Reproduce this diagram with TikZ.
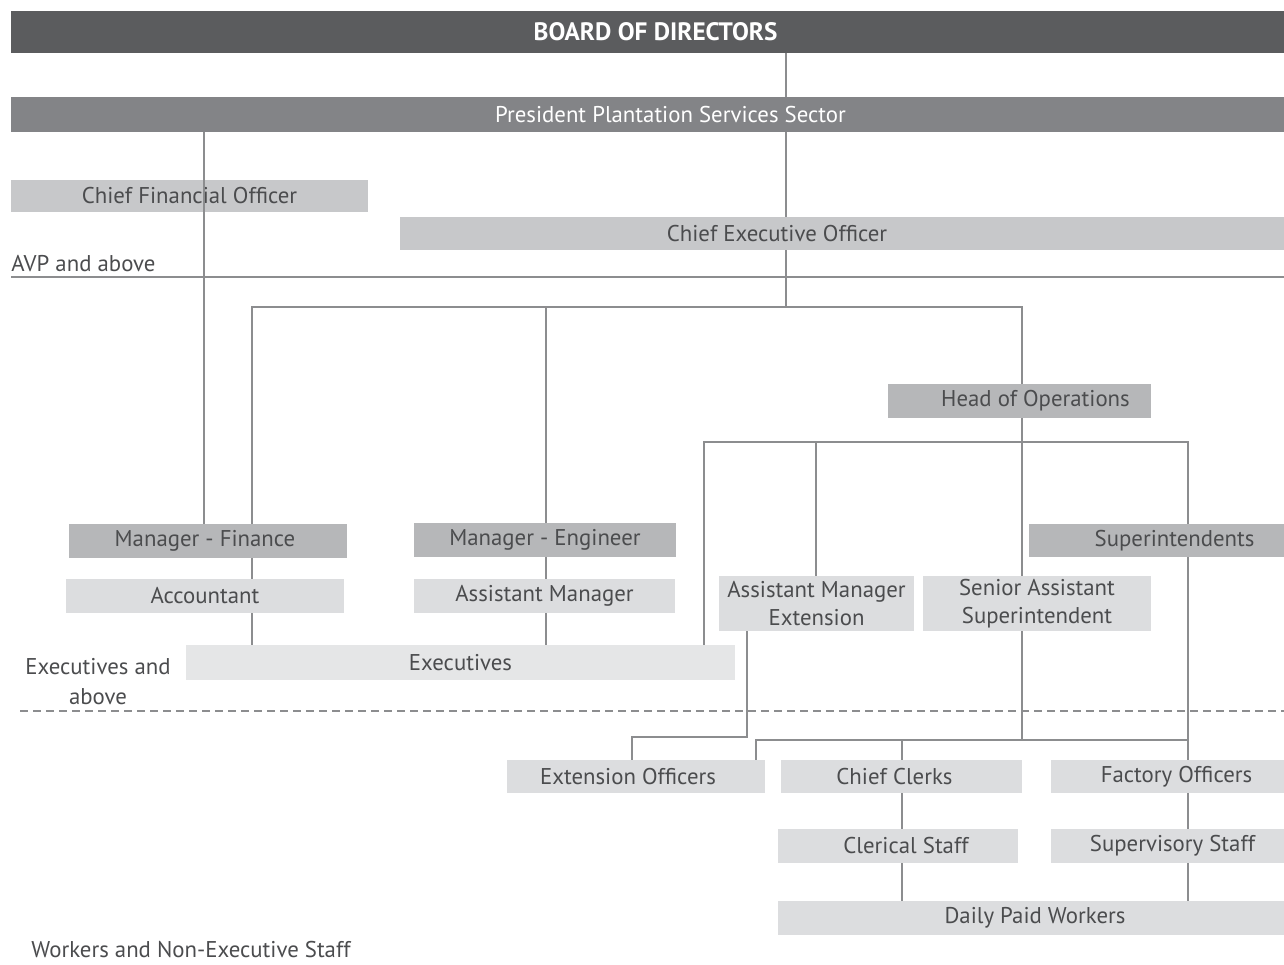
\documentclass[tikz,border=0pt]{standalone}
\usepackage{fontspec}
\setmainfont{PT Sans}
\definecolor{bodgray}{HTML}{5B5C5E}
\definecolor{presgray}{HTML}{838487}
\definecolor{midgray}{HTML}{B6B7B9}
\definecolor{softgray}{HTML}{C7C8CA}
\definecolor{lightgray}{HTML}{DCDDDF}
\definecolor{palegray}{HTML}{E5E6E7}
\definecolor{ink}{HTML}{4B4C4E}
\definecolor{wire}{HTML}{8C8D8F}
\newcommand\chartfont{\fontsize{11.4}{14}\selectfont}
\newcommand\nudge[2]{\hspace*{#1}#2\hspace*{-#1}}
\tikzset{
  box/.style={inner sep=0pt,minimum height=17pt,text=ink,font=\chartfont},
  conn/.style={draw=wire,line width=0.6pt},
  tag/.style={inner sep=0pt,text=ink,font=\chartfont}
}
\begin{document}
\begin{tikzpicture}[x=0.5pt,y=-0.5pt]
\useasboundingbox (0,0) rectangle (1284,964);

\coordinate (xa) at (786,0);
\coordinate (xb) at (204,0);
\coordinate (xc) at (252,0);
\coordinate (xd) at (546,0);
\coordinate (xe) at (1022,0);
\coordinate (xf) at (704,0);
\coordinate (xg) at (816,0);
\coordinate (xh) at (1188,0);
\coordinate (xi) at (747,0);
\coordinate (xj) at (632,0);
\coordinate (xk) at (756,0);
\coordinate (xl) at (902,0);
\coordinate (ya) at (0,307);
\coordinate (yb) at (0,442);
\coordinate (yc) at (0,740);
\coordinate (yd) at (0,737);

\draw[conn] (xh |- yb) -- (xh |- yc);

\node[box,fill=bodgray,text=white,minimum width=636.5pt,minimum height=21pt,font=\fontsize{12.6}{15}\selectfont\bfseries] (bod) at (647.5,32) {\nudge{4pt}{BOARD OF DIRECTORS}};
\node[box,fill=presgray,text=white,minimum width=636.5pt,minimum height=17.5pt] (pres) at (647.5,114.5) {\nudge{11.5pt}{President Plantation Services Sector}};
\node[box,fill=softgray,minimum width=178.5pt,minimum height=16pt] (cfo) at (189.5,196) {Chief Financial Officer};
\node[box,fill=softgray,minimum width=442pt,minimum height=16.5pt] (ceo) at (842,233.5) {\nudge{-32.5pt}{Chief Executive Officer}};
\node[box,fill=midgray,minimum width=131.5pt] (hoo) at (1019.5,401) {\nudge{8pt}{Head of Operations}};
\node[box,fill=midgray,minimum width=139pt] (mfin) at (208,541) {\nudge{-1.5pt}{Manager - Finance}};
\node[box,fill=midgray,minimum width=131pt] (meng) at (545,540) {Manager - Engineer};
\node[box,fill=midgray,minimum width=127.5pt,minimum height=16.5pt,text width=98pt,align=right] (supt) at (1156.5,540.5) {Superintendents};
\node[box,fill=lightgray,minimum width=139pt] (acc) at (205,596) {Accountant};
\node[box,fill=lightgray,minimum width=130.5pt] (amgr) at (544.5,596) {Assistant Manager};
\node[box,fill=lightgray,minimum width=97.5pt,minimum height=27.5pt,align=center] (ame) at (816.5,603.5) {Assistant Manager\\Extension};
\node[box,fill=lightgray,minimum width=114pt,minimum height=27.5pt,align=center] (sas) at (1037,603.5) {Senior Assistant\\Superintendent};
\node[box,fill=palegray,minimum width=274.5pt,minimum height=17.5pt] (exe) at (460.5,662.5) {Executives};
\node[box,fill=lightgray,minimum width=129pt,minimum height=16.5pt] (exo) at (636,776.5) {\nudge{-4pt}{Extension Officers}};
\node[box,fill=lightgray,minimum width=120.5pt,minimum height=16.5pt] (ccl) at (901.5,776.5) {\nudge{-3.5pt}{Chief Clerks}};
\node[box,fill=lightgray,minimum width=116.5pt,minimum height=16.5pt] (fac) at (1167.5,776.5) {\nudge{4.5pt}{Factory Officers}};
\node[box,fill=lightgray,minimum width=120pt] (cls) at (898,846) {\nudge{4pt}{Clerical Staff}};
\node[box,fill=lightgray,minimum width=116.5pt] (sup) at (1167.5,846) {\nudge{2.5pt}{Supervisory Staff}};
\node[box,fill=lightgray,minimum width=253pt] (dpw) at (1031,918) {\nudge{2pt}{Daily Paid Workers}};

\node[tag,anchor=west] (avp) at (11,264) {AVP and above};
\node[tag,align=center] (exa) at (98,682) {Executives and\\[1pt]above};
\node[tag,anchor=west] (wns) at (31,950) {Workers and Non-Executive Staff};

\coordinate (avpl) at (11,277);
\coordinate (avpr) at (1284,277);
\coordinate (dsl) at (20,711);
\coordinate (dsr) at (1284,711);
\draw[conn] (avpl) -- (avpr);
\draw[conn,dash pattern=on 4pt off 2.5pt] (dsl) -- (dsr);

\draw[conn] (bod.south -| xa) -- (pres.north -| xa);
\draw[conn] (pres.south -| xa) -- (ceo.north -| xa);
\draw[conn] (ceo.south -| xa) -- (xa |- ya);
\draw[conn] (pres.south -| xb) -- (mfin.north -| xb);
\draw[conn] (mfin.north -| xc) -- (xc |- ya) -- (xe |- ya) -- (hoo.north -| xe);
\draw[conn] (xd |- ya) -- (meng.north -| xd);
\draw[conn] (mfin.south -| xc) -- (acc.north -| xc);
\draw[conn] (acc.south -| xc) -- (exe.north -| xc);
\draw[conn] (meng.south -| xd) -- (amgr.north -| xd);
\draw[conn] (amgr.south -| xd) -- (exe.north -| xd);
\draw[conn] (hoo.south -| xe) -- (sas.north -| xe);
\draw[conn] (exe.north -| xf) -- (xf |- yb) -- (xh |- yb) -- (supt.north -| xh);
\draw[conn] (xg |- yb) -- (ame.north -| xg);
\draw[conn] (ame.south -| xi) -- (xi |- yd) -- (xj |- yd) -- (exo.north -| xj);
\draw[conn] (sas.south -| xe) -- (xe |- yc);
\draw[conn] (exo.north -| xk) -- (xk |- yc) -- (xh |- yc);
\draw[conn] (supt.south -| xh) -- (fac.north -| xh);
\draw[conn] (xl |- yc) -- (ccl.north -| xl);
\draw[conn] (ccl.south -| xl) -- (cls.north -| xl);
\draw[conn] (cls.south -| xl) -- (dpw.north -| xl);
\draw[conn] (fac.south -| xh) -- (sup.north -| xh);
\draw[conn] (sup.south -| xh) -- (dpw.north -| xh);

\end{tikzpicture}
\end{document}
